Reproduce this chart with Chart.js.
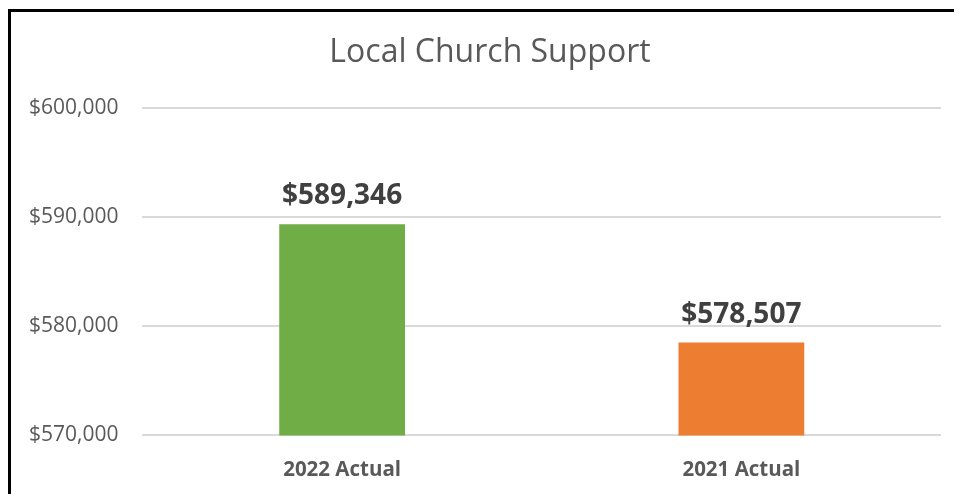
<!DOCTYPE html>
<html>
<head>
<meta charset="utf-8">
<script src="https://cdn.jsdelivr.net/npm/chart.js@4"></script>
<style>
  html, body { margin: 0; padding: 0; background: #fff; }
  #wrap { position: relative; width: 954px; height: 494px; }
  #frame {
    position: absolute; left: 8px; top: 9px; right: 0; bottom: 0;
    border-left: 3px solid #000; border-top: 3px solid #000;
    pointer-events: none;
  }
</style>
</head>
<body>
<div id="wrap">
  <canvas id="chart" width="954" height="494"></canvas>
  <div id="frame"></div>
</div>
<script>
// chart data
var categories = ['2022 Actual', '2021 Actual'];
var supportValues = [589346, 578507];
var barColors = ['#70AD47', '#ED7D31'];
var yTicks = [570000, 580000, 590000, 600000];
var chartTitle = 'Local Church Support';

var fontName = "'Open Sans', 'Noto Sans', sans-serif";

function money(v) {
  return '$' + v.toLocaleString('en-US');
}

// title, centred on the framed box rather than the plot
var titleText = {
  id: 'titleText',
  beforeDraw: function(chart) {
    var ctx = chart.ctx;
    ctx.save();
    ctx.font = '32px ' + fontName;
    ctx.fillStyle = '#595959';
    ctx.textAlign = 'center';
    ctx.textBaseline = 'middle';
    ctx.fillText(chartTitle, 490, 53);
    ctx.restore();
  }
};

// labels above bars
var barLabels = {
  id: 'barLabels',
  afterDatasetsDraw: function(chart) {
    var ctx = chart.ctx;
    var meta = chart.getDatasetMeta(0);
    ctx.save();
    ctx.font = 'bold 28px ' + fontName;
    ctx.fillStyle = '#404040';
    ctx.textAlign = 'center';
    ctx.textBaseline = 'alphabetic';
    meta.data.forEach(function(bar, i) {
      ctx.fillText(money(supportValues[i]), bar.x, bar.y - 20);
    });
    ctx.restore();
  }
};

var ctx = document.getElementById('chart').getContext('2d');
var chart = new Chart(ctx, {
  type: 'bar',
  data: {
    labels: categories,
    datasets: [{
      data: supportValues,
      backgroundColor: barColors,
      borderWidth: 0,
      categoryPercentage: 1,
      barPercentage: 0.315
    }]
  },
  options: {
    responsive: false,
    animation: false,
    layout: { padding: { left: 5, right: 13, top: 108, bottom: -10 } },
    plugins: {
      legend: { display: false },
      tooltip: { enabled: false },
      title: { display: false }
    },
    scales: {
      x: {
        grid: { display: false, drawTicks: false },
        border: { display: false },
        ticks: {
          color: '#595959',
          padding: 22,
          font: { family: fontName, size: 20.5, weight: 'bold', lineHeight: 1.2 }
        }
      },
      y: {
        min: yTicks[0],
        max: yTicks[yTicks.length - 1],
        afterBuildTicks: function(axis) {
          axis.ticks = yTicks.map(function(v) { return { value: v }; });
        },
        grid: { color: '#D9D9D9', lineWidth: 2, drawTicks: false },
        border: { display: false },
        ticks: {
          color: '#595959',
          padding: 24,
          font: { family: fontName, size: 21, lineHeight: 1.2 },
          callback: function(v) { return money(v); }
        }
      }
    }
  },
  plugins: [titleText, barLabels]
});
</script>
</body>
</html>
